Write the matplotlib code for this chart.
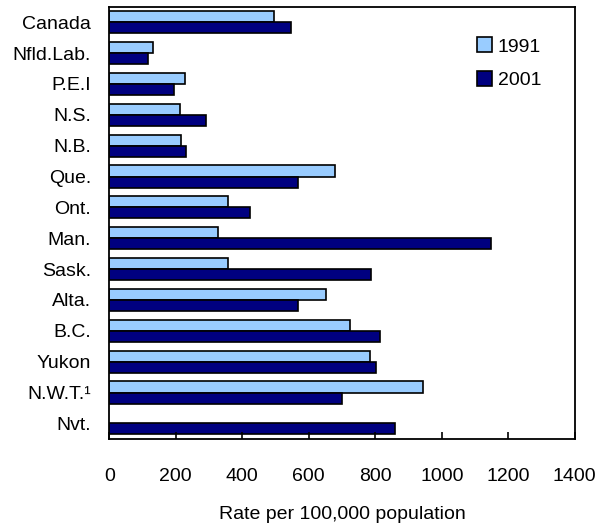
import matplotlib.pyplot as plt
import numpy as np

plt.rcParams['font.family'] = ['Liberation Sans', 'DejaVu Sans']

regions = ['Canada', 'Nfld.Lab.', 'P.E.I', 'N.S.', 'N.B.', 'Que.', 'Ont.',
           'Man.', 'Sask.', 'Alta.', 'B.C.', 'Yukon', 'N.W.T.\u00b9', 'Nvt.']
rate_1991 = [497, 132, 229, 214, 217, 678, 358, 328, 358, 651, 723, 783, 943, np.nan]
rate_2001 = [548, 117, 196, 292, 232, 569, 422, 1148, 786, 569, 813, 801, 699, 858]
xticks = [0, 200, 400, 600, 800, 1000, 1200, 1400]

fig = plt.figure(figsize=(6, 5.23), dpi=100)
ax = fig.add_axes([0.182, 0.161, 0.776, 0.826])

y = np.arange(len(regions))
h = 0.36
ax.barh(y - h/2, rate_1991, height=h, color='#99CCFF', edgecolor='black',
        linewidth=1.2, label='1991')
ax.barh(y + h/2, rate_2001, height=h, color='#000080', edgecolor='black',
        linewidth=1.2, label='2001')

ax.set_ylim(len(regions) - 0.5, -0.5)
ax.set_xlim(0, 1400)
ax.set_yticks(y)
ax.set_yticklabels(regions, fontsize=14)
ax.set_xticks(xticks)
ax.set_xticklabels([str(t) for t in xticks], fontsize=14)
ax.tick_params(axis='y', length=0, pad=13)
ax.tick_params(axis='x', direction='in', length=5, width=1.2, pad=21)
for s in ax.spines.values():
    s.set_linewidth(1.3)

ax.set_xlabel('Rate per 100,000 population', fontsize=14, labelpad=15)

ax.legend(loc='upper left', bbox_to_anchor=(0.778, 0.947),
          bbox_transform=fig.transFigure, frameon=False, fontsize=14,
          borderpad=0, handlelength=0.8, handleheight=0.8,
          handletextpad=0.3, labelspacing=0.8)

fig.savefig('out.png', dpi=100)
